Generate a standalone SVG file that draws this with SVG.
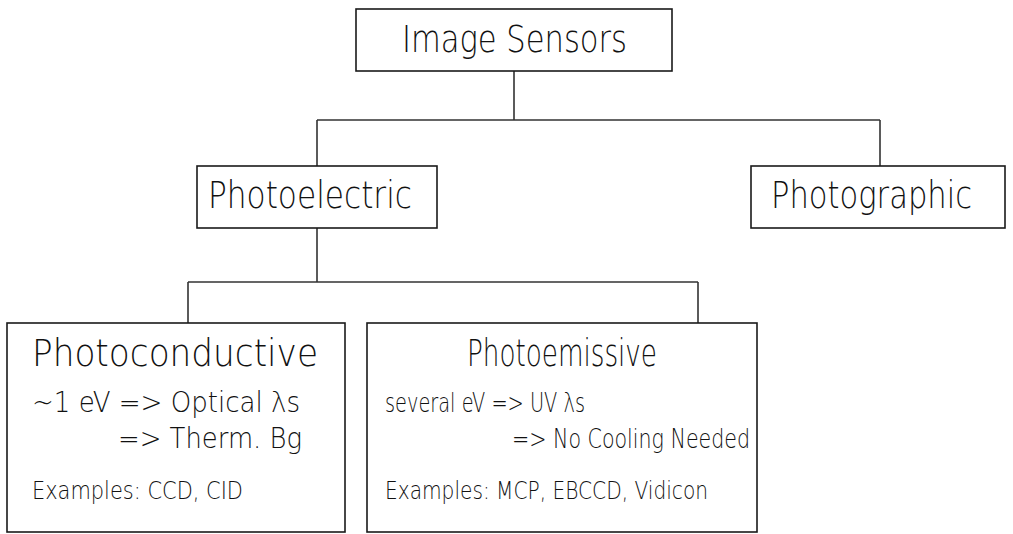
<svg xmlns="http://www.w3.org/2000/svg" width="1013" height="534" viewBox="0 0 1013 534">
  <style>
    .box { fill: #ffffff; stroke: #1a1a1a; stroke-width: 1.6; }
    .wire { fill: none; stroke: #333333; stroke-width: 1.6; }
    text { font-family: "DejaVu Sans", "Liberation Sans", sans-serif; font-weight: 200; fill: #111111; }
    .title { font-size: 37px; }
    .body { font-size: 28px; }
    .mid { font-size: 26px; }
    .small { font-size: 24px; }
  </style>
  <rect width="1013" height="534" fill="#ffffff"/>

  <!-- tree connectors -->
  <g id="connectors">
    <path class="wire" d="M514 71 V120 M317 120 H880 M317 120 V166 M880 120 V166"/>
    <path class="wire" d="M317 228 V282 M188 282 H698 M188 282 V323 M698 282 V323"/>
  </g>

  <g id="image-sensors">
    <rect class="box" x="356" y="9" width="316" height="62"/>
    <text class="title" x="402" y="52" textLength="225" lengthAdjust="spacingAndGlyphs">Image Sensors</text>
  </g>

  <g id="photoelectric">
    <rect class="box" x="197" y="166" width="240" height="62"/>
    <text class="title" x="208" y="208" textLength="204" lengthAdjust="spacingAndGlyphs">Photoelectric</text>
  </g>

  <g id="photographic">
    <rect class="box" x="751" y="166" width="254" height="62"/>
    <text class="title" x="771" y="208" textLength="201" lengthAdjust="spacingAndGlyphs">Photographic</text>
  </g>

  <g id="photoconductive">
    <rect class="box" x="7" y="323" width="338" height="209"/>
    <text class="title" x="32" y="366" textLength="286" lengthAdjust="spacingAndGlyphs">Photoconductive</text>
    <text class="body" x="32" y="412" textLength="268" lengthAdjust="spacingAndGlyphs">~1 eV =&gt; Optical λs</text>
    <text class="body" x="118" y="448" textLength="184" lengthAdjust="spacingAndGlyphs">=&gt; Therm. Bg</text>
    <text class="small" x="32" y="499" textLength="211" lengthAdjust="spacingAndGlyphs">Examples: CCD, CID</text>
  </g>

  <g id="photoemissive">
    <rect class="box" x="367" y="323" width="390" height="209"/>
    <text class="title" x="467" y="366" textLength="190" lengthAdjust="spacingAndGlyphs">Photoemissive</text>
    <text class="mid" x="385" y="412" textLength="200" lengthAdjust="spacingAndGlyphs">several eV =&gt; UV λs</text>
    <text class="mid" x="512" y="448" textLength="238" lengthAdjust="spacingAndGlyphs">=&gt; No Cooling Needed</text>
    <text class="small" x="385" y="499" textLength="323" lengthAdjust="spacingAndGlyphs">Examples: MCP, EBCCD, Vidicon</text>
  </g>
</svg>
